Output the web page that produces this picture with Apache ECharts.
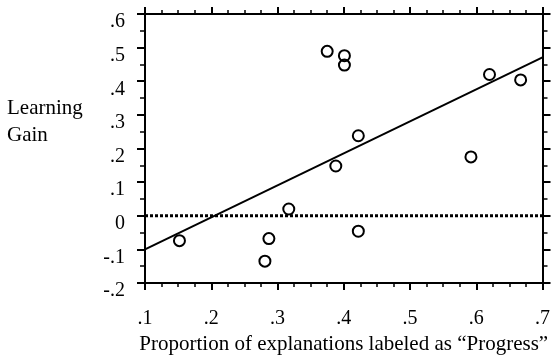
<!DOCTYPE html>
<html lang="en" style="height: 100%">
<head>
  <meta charset="utf-8">
</head>
<body style="height: 100%; margin: 0; background-color:#ffffff;">
  <div id="container" style="height: 100%"></div>

<script src="https://cdn.jsdelivr.net/npm/echarts@6/dist/echarts.min.js"></script>

<script>
  var dom = document.getElementById('container');
  var myChart = echarts.init(dom);

  // proportion labeled "Progress" vs learning gain, one circle per student
  var propX = [0.375, 0.401, 0.401, 0.620, 0.667, 0.422, 0.388, 0.592, 0.317, 0.287, 0.281, 0.152, 0.422];
  var gainY = [0.489, 0.476, 0.448, 0.420, 0.404, 0.238, 0.148, 0.175, 0.020, -0.068, -0.135, -0.074, -0.046];
  // fitted line end points
  var fitX = [0.1, 0.7];
  var fitY = [-0.1, 0.471];
  var zeroY = [0, 0];

  var serif = '"Liberation Serif", "DejaVu Serif", serif';

  function pairs(xs, ys) {
    return xs.map(function (x, i) { return [x, ys[i]]; });
  }
  function tickFmt(v) {
    var s = (Math.round(v * 10) / 10).toString();
    return s.replace('0.', '.');
  }

  var axisBase = {
    type: 'value',
    interval: 0.1,
    axisLine: { show: true, onZero: false, lineStyle: { color: '#000', width: 2 } },
    splitLine: { show: false },
    minorSplitLine: { show: false }
  };

  var option = {
    animation: false,
    grid: { left: 145, right: 7, top: 14, bottom: 79 },
    xAxis: [
      Object.assign({}, axisBase, {
        position: 'bottom', min: 0.1, max: 0.7,
        axisTick: { show: true, length: 7, lineStyle: { color: '#000', width: 2 } },
        minorTick: { show: true, splitNumber: 4, length: 4, lineStyle: { color: '#000', width: 1.5 } },
        axisLabel: { margin: 26, color: '#000', fontFamily: serif, fontSize: 20, formatter: tickFmt },
        name: 'Proportion of explanations labeled as \u201cProgress\u201d',
        nameLocation: 'middle', nameGap: 47,
        nameTextStyle: { color: '#000', fontFamily: serif, fontSize: 21 }
      }),
      Object.assign({}, axisBase, {
        position: 'top', min: 0.1, max: 0.7,
        axisTick: { show: true, length: 7, lineStyle: { color: '#000', width: 2 } },
        minorTick: { show: true, splitNumber: 4, length: 4, lineStyle: { color: '#000', width: 1.5 } },
        axisLabel: { show: false }
      })
    ],
    yAxis: [
      Object.assign({}, axisBase, {
        position: 'left', min: -0.2, max: 0.6,
        axisTick: { show: true, length: 8, lineStyle: { color: '#000', width: 2 } },
        minorTick: { show: true, splitNumber: 2, length: 5, lineStyle: { color: '#000', width: 1.5 } },
        axisLabel: {
          margin: 20, color: '#000', fontFamily: serif, fontSize: 20,
          verticalAlign: 'top', lineHeight: 16, formatter: tickFmt
        }
      }),
      Object.assign({}, axisBase, {
        position: 'right', min: -0.2, max: 0.6,
        axisTick: { show: true, length: 8, lineStyle: { color: '#000', width: 2 } },
        minorTick: { show: true, splitNumber: 2, length: 5, lineStyle: { color: '#000', width: 1.5 } },
        axisLabel: { show: false }
      })
    ],
    graphic: [{
      type: 'text', left: 7, top: 95,
      style: {
        text: 'Learning\nGain', fill: '#000',
        font: '21px ' + serif, lineHeight: 27
      }
    }],
    series: [
      {
        type: 'line', data: pairs(fitX, zeroY), showSymbol: false, silent: true,
        lineStyle: { color: '#000', width: 3, type: [3, 2] }
      },
      {
        type: 'line', data: pairs(fitX, fitY), showSymbol: false, silent: true,
        lineStyle: { color: '#000', width: 2 }
      },
      {
        type: 'scatter', data: pairs(propX, gainY), symbol: 'circle', symbolSize: 11,
        itemStyle: { color: 'rgba(0,0,0,0)', borderColor: '#000', borderWidth: 2, opacity: 1 }
      }
    ]
  };

  myChart.setOption(option);
  window.addEventListener('resize', myChart.resize);
</script>

</body>
</html>
